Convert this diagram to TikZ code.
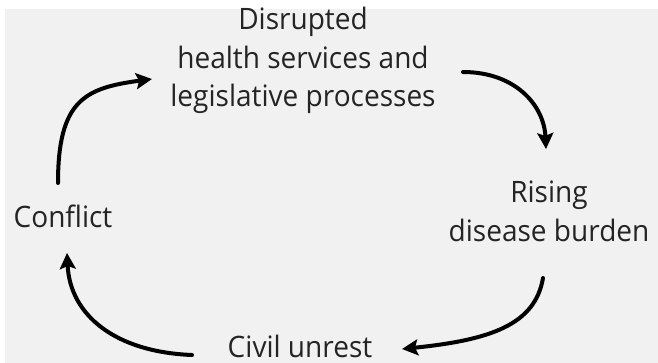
\documentclass[tikz,border=0pt]{standalone}
\usepackage{fontspec}
\setmainfont{Open Sans}
\newfontfamily\lblfont[FakeStretch=0.95]{Open Sans}
\usetikzlibrary{arrows.meta}
\definecolor{bg}{RGB}{241,241,241}
\definecolor{txt}{RGB}{36,36,36}
\begin{document}
\begin{tikzpicture}[x=1pt,y=-1pt,
  lbl/.style={font=\lblfont\fontsize{29.5}{38.8}\selectfont, text=txt, align=center, inner sep=0pt, anchor=base},
  arr/.style={line width=4pt, line cap=round, -{Stealth[length=16pt,width=16pt,inset=3pt]}}]
\fill[white] (0,0) rectangle (658,363);
\fill[bg] (5,9) rectangle (658,363);
\useasboundingbox (0,0) rectangle (658,363);
\node[lbl] (dis) at (303,107) {Disrupted\\health services and\\legislative processes};
\node[lbl] (ris) at (549,241) {Rising\\disease burden};
\node[lbl] (con) at (63,228) {Conflict};
\node[lbl] (civ) at (300,357) {Civil unrest};
\coordinate (a1s) at (58,183);
\coordinate (a1e) at (152,79);
\coordinate (a2s) at (463,72);
\coordinate (a2e) at (546,149);
\coordinate (a3s) at (192,355);
\coordinate (a3e) at (67,253);
\coordinate (a4s) at (543,278);
\coordinate (a4e) at (402,349);
\draw[arr] (a1s) .. controls (58,100) and (85,88) .. (a1e);
\draw[arr] (a2s) .. controls (515,72) and (544,105) .. (a2e);
\draw[arr] (a4s) .. controls (535,325) and (490,340) .. (a4e);
\draw[arr] (a3s) .. controls (115,352) and (70,315) .. (a3e);
\end{tikzpicture}
\end{document}
